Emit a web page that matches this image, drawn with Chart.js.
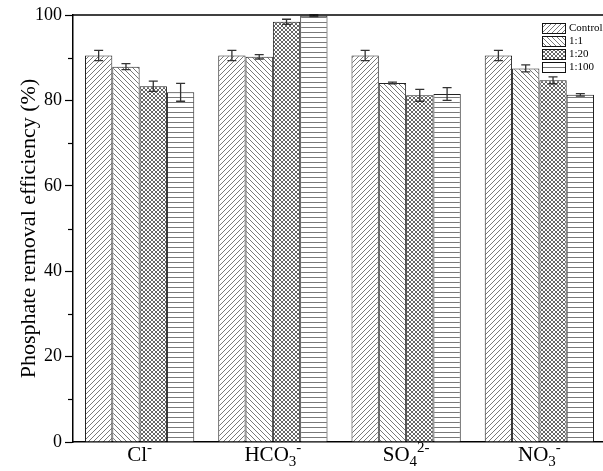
<!doctype html>
<html lang="en">
<head>
<meta charset="utf-8">
<title>Phosphate removal efficiency</title>
<script src="https://cdn.jsdelivr.net/npm/chart.js@4.4.0/dist/chart.umd.min.js"></script>
<style>
  html, body { margin: 0; padding: 0; background: #fff; overflow: hidden; }
  #wrap { width: 606px; height: 471px; }
</style>
</head>
<body>
<div id="wrap">
  <canvas id="barChart" width="606" height="471"></canvas>
</div>
<script>
// data
var categories = ['Cl⁻', 'HCO₃⁻', 'SO₄²⁻', 'NO₃⁻'];
var seriesNames = ['Control', '1:1', '1:20', '1:100'];
var controlVals = [90.5, 90.5, 90.5, 90.5];
var ratio1Vals = [87.9, 90.2, 84.1, 87.5];
var ratio20Vals = [83.3, 98.4, 81.2, 84.7];
var ratio100Vals = [81.9, 99.8, 81.5, 81.3];
var controlErr = [1.2, 1.2, 1.2, 1.2];
var ratio1Err = [0.7, 0.5, 0.2, 0.8];
var ratio20Err = [1.2, 0.6, 1.4, 0.8];
var ratio100Err = [2.1, 0.2, 1.5, 0.3];
var yTicks = [0, 20, 40, 60, 80, 100];
var yMinorTicks = [10, 30, 50, 70, 90];

var SERIF = '"Liberation Serif", "Times New Roman", serif';

// hatch fills
function makePattern(kind) {
  var s = 5;
  if (kind === 'cross') s = 4;
  var c = document.createElement('canvas');
  c.width = s; c.height = s;
  var g = c.getContext('2d');
  g.fillStyle = '#fff';
  g.fillRect(0, 0, s, s);
  g.strokeStyle = kind === 'cross' ? '#555' : '#6a6a6a';
  g.lineWidth = 0.9;
  g.beginPath();
  if (kind === 'fwd' || kind === 'cross') {
    g.moveTo(-1, s + 1); g.lineTo(s + 1, -1);
    g.moveTo(-1, 1); g.lineTo(1, -1);
    g.moveTo(s - 1, s + 1); g.lineTo(s + 1, s - 1);
  }
  if (kind === 'back' || kind === 'cross') {
    g.moveTo(-1, -1); g.lineTo(s + 1, s + 1);
    g.moveTo(s - 1, -1); g.lineTo(s + 1, 1);
    g.moveTo(-1, s - 1); g.lineTo(1, s + 1);
  }
  if (kind === 'horiz') {
    g.moveTo(0, 2.5); g.lineTo(s, 2.5);
  }
  g.stroke();
  return g.createPattern(c, 'repeat');
}

var fills = [makePattern('fwd'), makePattern('back'), makePattern('cross'), makePattern('horiz')];
var values = [controlVals, ratio1Vals, ratio20Vals, ratio100Vals];
var errors = [controlErr, ratio1Err, ratio20Err, ratio100Err];

var datasets = [];
for (var i = 0; i < seriesNames.length; i++) {
  datasets.push({
    label: seriesNames[i],
    data: values[i],
    errors: errors[i],
    backgroundColor: fills[i],
    borderColor: '#222',
    borderWidth: 1,
    borderSkipped: 'bottom',
    categoryPercentage: 0.82,
    barPercentage: 1.0
  });
}

// error bars
var errorBars = {
  id: 'errorBars',
  afterDatasetsDraw: function(chart) {
    var ctx = chart.ctx;
    var y = chart.scales.y;
    ctx.save();
    ctx.strokeStyle = '#333';
    ctx.lineWidth = 1.3;
    chart.data.datasets.forEach(function(ds, di) {
      var meta = chart.getDatasetMeta(di);
      meta.data.forEach(function(bar, j) {
        var v = ds.data[j], e = ds.errors[j];
        var yHi = y.getPixelForValue(v + e);
        var yLo = y.getPixelForValue(v - e);
        ctx.beginPath();
        ctx.moveTo(bar.x, yHi); ctx.lineTo(bar.x, yLo);
        ctx.moveTo(bar.x - 4.5, yHi); ctx.lineTo(bar.x + 4.5, yHi);
        ctx.moveTo(bar.x - 4.5, yLo); ctx.lineTo(bar.x + 4.5, yLo);
        ctx.stroke();
      });
    });
    ctx.restore();
  }
};

// frame, minor ticks, category labels with sub/superscripts, legend
var extras = {
  id: 'extras',
  afterDraw: function(chart) {
    var ctx = chart.ctx;
    var a = chart.chartArea;
    var y = chart.scales.y;
    var x = chart.scales.x;
    ctx.save();
    ctx.strokeStyle = '#000';
    ctx.lineWidth = 1.5;
    ctx.beginPath();
    ctx.moveTo(a.left, a.top); ctx.lineTo(chart.width, a.top);
    ctx.stroke();

    ctx.lineWidth = 1.2;
    yMinorTicks.forEach(function(t) {
      var py = Math.round(y.getPixelForValue(t)) + 0.5;
      ctx.beginPath();
      ctx.moveTo(a.left - 5, py); ctx.lineTo(a.left, py);
      ctx.stroke();
    });

    // category labels
    var subs = '₀₁₂₃₄₅₆₇₈₉', sups = '⁰¹²³⁴⁵⁶⁷⁸⁹';
    ctx.fillStyle = '#000';
    ctx.textBaseline = 'alphabetic';
    ctx.textAlign = 'left';
    categories.forEach(function(lab, i) {
      var parts = [];
      for (var k = 0; k < lab.length; k++) {
        var ch = lab[k], kind = 'n';
        if (subs.indexOf(ch) >= 0) { ch = String(subs.indexOf(ch)); kind = 'sub'; }
        else if (sups.indexOf(ch) >= 0) { ch = String(sups.indexOf(ch)); kind = 'sup'; }
        else if (ch === '⁻') { ch = '-'; kind = 'sup'; }
        parts.push([ch, kind]);
      }
      var w = 0, widths = [];
      parts.forEach(function(p) {
        ctx.font = (p[1] === 'n' ? 21 : 15) + 'px ' + SERIF;
        var pw = ctx.measureText(p[0]).width;
        widths.push(pw); w += pw;
      });
      var px = x.getPixelForValue(i) - w / 2;
      var base = 461;
      parts.forEach(function(p, k) {
        ctx.font = (p[1] === 'n' ? 21 : 15) + 'px ' + SERIF;
        var dy = p[1] === 'sub' ? 5 : (p[1] === 'sup' ? -9 : 0);
        ctx.fillText(p[0], px, base + dy);
        px += widths[k];
      });
    });

    // legend
    var lx = 542, ly = 23;
    ctx.font = '11px ' + SERIF;
    ctx.textBaseline = 'middle';
    chart.data.datasets.forEach(function(ds, i) {
      var top = ly + i * 13;
      ctx.fillStyle = ds.backgroundColor;
      ctx.fillRect(lx, top, 23, 10);
      ctx.lineWidth = 1;
      ctx.strokeStyle = '#111';
      ctx.strokeRect(lx + 0.5, top + 0.5, 23, 10);
      ctx.fillStyle = '#000';
      ctx.fillText(ds.label, lx + 27, top + 5.5);
    });
    ctx.restore();
  }
};

const CHART = document.getElementById('barChart');
let barChart = new Chart(CHART, {
  type: 'bar',
  data: { labels: categories, datasets: datasets },
  plugins: [errorBars, extras],
  options: {
    responsive: false,
    animation: false,
    devicePixelRatio: 1,
    layout: { padding: { top: 15, right: 0, left: 0, bottom: 0 } },
    plugins: { legend: { display: false }, tooltip: { enabled: false } },
    scales: {
      x: {
        grid: { display: false },
        border: { display: true, color: '#000', width: 1.5 },
        ticks: { display: false },
        afterFit: function(s) { s.height = 29; }
      },
      y: {
        min: 0,
        max: 100,
        afterBuildTicks: function(s) { s.ticks = yTicks.map(function(v) { return { value: v }; }); },
        ticks: { color: '#000', font: { family: SERIF, size: 18 }, padding: 3 },
        grid: { drawOnChartArea: false, drawTicks: true, tickLength: 8, tickColor: '#000', tickWidth: 1.2 },
        border: { display: true, color: '#000', width: 1.5 },
        title: {
          display: true,
          text: 'Phosphate removal efficiency (%)',
          color: '#000',
          font: { family: SERIF, size: 22 },
          padding: { top: 16, bottom: 0 }
        },
        afterFit: function(s) { s.width = 73; }
      }
    }
  }
});
</script>
</body>
</html>
